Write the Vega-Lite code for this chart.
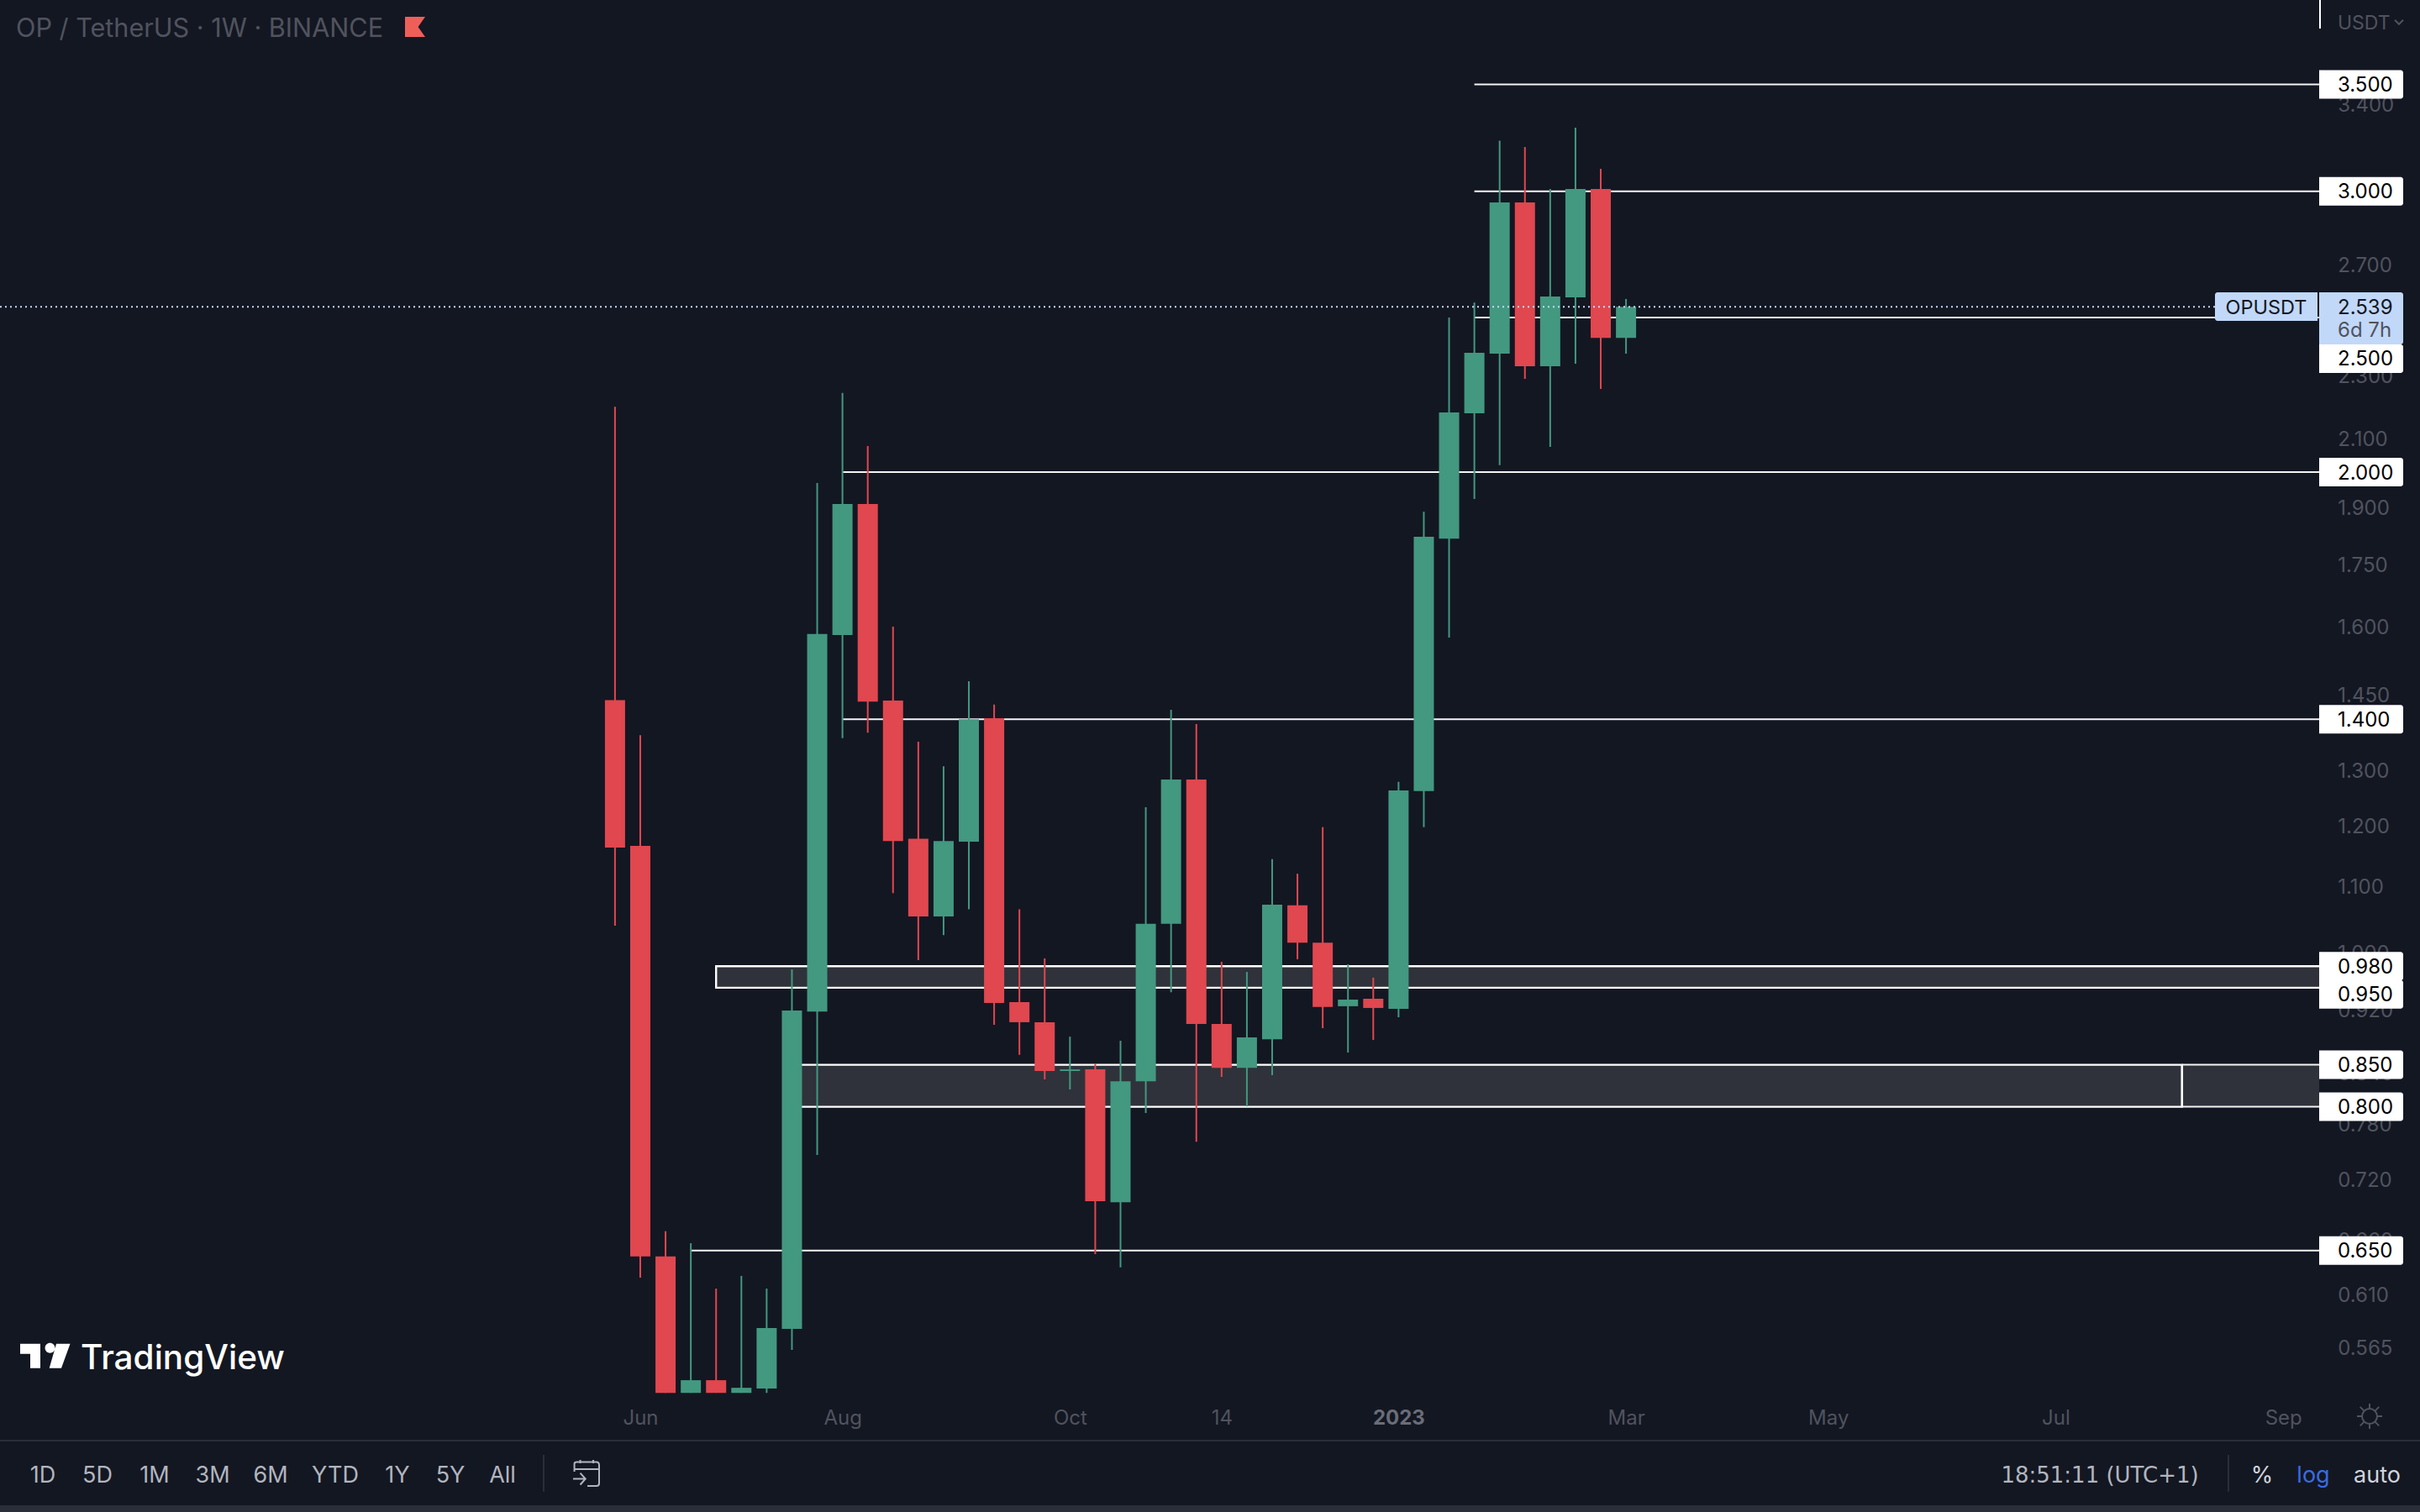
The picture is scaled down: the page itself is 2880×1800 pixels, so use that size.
{
  "$schema": "https://vega.github.io/schema/vega-lite/v6.json",
  "width": 2880,
  "height": 1800,
  "padding": 0,
  "autosize": {"type": "none"},
  "background": "#131722",
  "data": {"values": [{}]},
  "config": {
    "view": {"stroke": null},
    "scale": {"continuousPadding": 0},
    "text": {"font": "Inter", "baseline": "middle", "align": "center", "fontSize": 27, "dy": 1.5},
    "axis": {"labelFont": "Inter", "domain": false, "ticks": false, "grid": false, "title": null}
  },
  "datasets": {
    "labels": [
      {"at": 3.5, "text": "3.500"},
      {"at": 3.0, "text": "3.000"},
      {"at": 2.356, "text": "2.500"},
      {"at": 2.0, "text": "2.000"},
      {"at": 1.4, "text": "1.400"},
      {"at": 0.98, "text": "0.980"},
      {"at": 0.9411, "text": "0.950"},
      {"at": 0.85, "text": "0.850"},
      {"at": 0.8, "text": "0.800"},
      {"at": 0.65, "text": "0.650"}
    ],
    "candles": [
      {"date": "2022-05-30", "open": 1.439, "high": 2.198, "low": 1.039, "close": 1.163},
      {"date": "2022-06-06", "open": 1.166, "high": 1.368, "low": 0.6252, "close": 0.6445},
      {"date": "2022-06-13", "open": 0.6445, "high": 0.6685, "low": 0.5293, "close": 0.5293},
      {"date": "2022-06-20", "open": 0.5293, "high": 0.657, "low": 0.5293, "close": 0.5391},
      {"date": "2022-06-27", "open": 0.5391, "high": 0.6153, "low": 0.5293, "close": 0.5293},
      {"date": "2022-07-04", "open": 0.5293, "high": 0.6267, "low": 0.5293, "close": 0.5332},
      {"date": "2022-07-11", "open": 0.5327, "high": 0.6153, "low": 0.5293, "close": 0.5813},
      {"date": "2022-07-18", "open": 0.5806, "high": 0.9757, "low": 0.5632, "close": 0.9194},
      {"date": "2022-07-25", "open": 0.918, "high": 1.969, "low": 0.7462, "close": 1.583},
      {"date": "2022-08-01", "open": 1.581, "high": 2.242, "low": 1.362, "close": 1.91},
      {"date": "2022-08-08", "open": 1.91, "high": 2.077, "low": 1.373, "close": 1.436},
      {"date": "2022-08-15", "open": 1.438, "high": 1.6, "low": 1.089, "close": 1.174},
      {"date": "2022-08-22", "open": 1.178, "high": 1.355, "low": 0.9887, "close": 1.053},
      {"date": "2022-08-29", "open": 1.053, "high": 1.308, "low": 1.025, "close": 1.174},
      {"date": "2022-09-05", "open": 1.173, "high": 1.479, "low": 1.064, "close": 1.4},
      {"date": "2022-09-12", "open": 1.402, "high": 1.43, "low": 0.9006, "close": 0.9293},
      {"date": "2022-09-19", "open": 0.9305, "high": 1.064, "low": 0.8623, "close": 0.9039},
      {"date": "2022-09-26", "open": 0.9039, "high": 0.9912, "low": 0.8323, "close": 0.8424},
      {"date": "2022-10-03", "open": 0.8424, "high": 0.8853, "low": 0.8203, "close": 0.8444},
      {"date": "2022-10-10", "open": 0.8444, "high": 0.8517, "low": 0.6467, "close": 0.698},
      {"date": "2022-10-17", "open": 0.6971, "high": 0.8799, "low": 0.6344, "close": 0.83},
      {"date": "2022-10-24", "open": 0.83, "high": 1.233, "low": 0.7929, "close": 1.042},
      {"date": "2022-10-31", "open": 1.042, "high": 1.419, "low": 0.944, "close": 1.283},
      {"date": "2022-11-07", "open": 1.283, "high": 1.39, "low": 0.7607, "close": 0.9016},
      {"date": "2022-11-14", "open": 0.9016, "high": 0.9862, "low": 0.8353, "close": 0.8463},
      {"date": "2022-11-21", "open": 0.8463, "high": 0.9719, "low": 0.8005, "close": 0.8844},
      {"date": "2022-11-28", "open": 0.882, "high": 1.144, "low": 0.8373, "close": 1.071},
      {"date": "2022-12-05", "open": 1.07, "high": 1.12, "low": 0.9899, "close": 1.014},
      {"date": "2022-12-12", "open": 1.014, "high": 1.198, "low": 0.8962, "close": 0.9239},
      {"date": "2022-12-19", "open": 0.925, "high": 0.9827, "low": 0.8652, "close": 0.9339},
      {"date": "2022-12-26", "open": 0.935, "high": 0.964, "low": 0.881, "close": 0.9227},
      {"date": "2023-01-02", "open": 0.9216, "high": 1.279, "low": 0.9105, "close": 1.263},
      {"date": "2023-01-09", "open": 1.262, "high": 1.889, "low": 1.198, "close": 1.822},
      {"date": "2023-01-16", "open": 1.817, "high": 2.5, "low": 1.575, "close": 2.18},
      {"date": "2023-01-23", "open": 2.177, "high": 2.555, "low": 1.924, "close": 2.376},
      {"date": "2023-01-30", "open": 2.373, "high": 3.227, "low": 2.02, "close": 2.952},
      {"date": "2023-02-06", "open": 2.952, "high": 3.198, "low": 2.288, "close": 2.33},
      {"date": "2023-02-13", "open": 2.33, "high": 3.01, "low": 2.074, "close": 2.577},
      {"date": "2023-02-20", "open": 2.574, "high": 3.288, "low": 2.339, "close": 3.01},
      {"date": "2023-02-27", "open": 3.01, "high": 3.099, "low": 2.255, "close": 2.428},
      {"date": "2023-03-06", "open": 2.428, "high": 2.568, "low": 2.373, "close": 2.539}
    ]
  },
  "layer": [
    {
      "data": {
        "values": [
          {"from": "2022-06-27", "to": "2023-09-16", "low": 0.95, "high": 0.98},
          {"from": "2022-07-18", "to": "2023-08-07", "low": 0.8, "high": 0.85}
        ],
        "format": {"parse": {"from": "date", "to": "date"}}
      },
      "mark": {"type": "rect", "fill": "#2f323a", "stroke": "#ffffff", "strokeWidth": 2.4},
      "encoding": {
        "x": {
          "field": "from",
          "type": "temporal",
          "scale": {"type": "utc", "domain": [1639152938000, 1697059321000], "nice": false, "padding": 0},
          "axis": {
            "title": null,
            "orient": "bottom",
            "offset": -112,
            "labelPadding": 0,
            "labelBaseline": "middle",
            "labelFontSize": 24,
            "labelColor": {"condition": {"test": "+datum.value==1672617600000", "value": "#6a6d78"}, "value": "#50535e"},
            "labelFontWeight": {"condition": {"test": "+datum.value==1672617600000", "value": "bold"}, "value": "normal"},
            "labelOverlap": false,
            "labelBound": false,
            "labelFlush": false,
            "values": [1654473600000, 1659312000000, 1664755200000, 1668384000000, 1672617600000, 1678060800000, 1682899200000, 1688342400000, 1693785600000],
            "labelExpr": "+datum.value==1668384000000?'14':+datum.value==1672617600000?'2023':utcFormat(datum.value,'%b')"
          }
        },
        "x2": {"field": "to"},
        "y": {
          "field": "low",
          "type": "quantitative",
          "scale": {"type": "log", "domain": [0.44568, 3.9541], "nice": false, "zero": false, "padding": 0},
          "axis": {
            "title": null,
            "orient": "right",
            "offset": -98.3,
            "labelPadding": 0,
            "labelOffset": 1.5,
            "labelAlign": "left",
            "labelBaseline": "middle",
            "labelFontSize": 24,
            "labelColor": "#50535e",
            "labelOverlap": false,
            "labelBound": false,
            "labelFlush": false,
            "format": ".3f",
            "values": [3.4, 2.7, 2.3, 2.1, 1.9, 1.75, 1.6, 1.45, 1.3, 1.2, 1.1, 1.0, 0.92, 0.84, 0.78, 0.72, 0.66, 0.61, 0.565]
          }
        },
        "y2": {"field": "high"}
      }
    },
    {
      "data": {
        "values": [{"from": "2023-08-07", "low": 0.8, "high": 0.85}],
        "format": {"parse": {"from": "date"}}
      },
      "mark": {"type": "rect", "fill": "#2f323a"},
      "encoding": {
        "x": {"field": "from", "type": "temporal"},
        "x2": {"datum": 1694646555000},
        "y": {"field": "low", "type": "quantitative"},
        "y2": {"field": "high"}
      }
    },
    {
      "data": {
        "values": [{"from": "2023-08-07", "low": 0.8, "high": 0.85}]
      },
      "mark": {"type": "rule", "color": "#ffffff", "size": 2.4},
      "encoding": {
        "x": {"field": "from", "type": "temporal"},
        "y": {"field": "low", "type": "quantitative"},
        "y2": {"field": "high"}
      }
    },
    {
      "data": {
        "values": [
          {"level": 3.5, "from": "2023-01-23"},
          {"level": 3.0, "from": "2023-01-23"},
          {"level": 2.5, "from": "2023-01-23"},
          {"level": 2.0, "from": "2022-08-01"},
          {"level": 1.4, "from": "2022-08-01"},
          {"level": 0.85, "from": "2023-08-07"},
          {"level": 0.8, "from": "2023-08-07"},
          {"level": 0.65, "from": "2022-06-20"}
        ]
      },
      "mark": {"type": "rule", "color": "#f4f4f4", "size": 2},
      "encoding": {
        "x": {"field": "from", "type": "temporal"},
        "x2": {"datum": 1694646555000},
        "y": {"field": "level", "type": "quantitative"}
      }
    },
    {
      "data": {"name": "candles"},
      "mark": {"type": "rule", "size": 2},
      "encoding": {
        "x": {"field": "date", "type": "temporal"},
        "y": {"field": "low", "type": "quantitative"},
        "y2": {"field": "high"},
        "color": {"condition": {"test": "datum.close>datum.open", "value": "#439880"}, "value": "#e0474f"}
      }
    },
    {
      "data": {"name": "candles"},
      "mark": {"type": "bar", "size": 24},
      "encoding": {
        "x": {"field": "date", "type": "temporal"},
        "y": {"field": "open", "type": "quantitative"},
        "y2": {"field": "close"},
        "color": {"condition": {"test": "datum.close>datum.open", "value": "#439880"}, "value": "#e0474f"}
      }
    },
    {
      "mark": {"type": "rule", "color": "#c1d8f8", "size": 2, "strokeDash": [2, 4]},
      "encoding": {
        "x": {"datum": 1639152938000, "type": "temporal"},
        "x2": {"datum": 1692153364000},
        "y": {"datum": 2.539, "type": "quantitative"}
      }
    },
    {
      "mark": {"type": "rect", "color": "#c1d8f8", "cornerRadiusTopLeft": 3, "cornerRadiusBottomLeft": 3},
      "encoding": {
        "x": {"datum": 1692153364000, "type": "temporal"},
        "x2": {"datum": 1694606342000},
        "y": {"datum": 2.593, "type": "quantitative"},
        "y2": {"datum": 2.488}
      }
    },
    {
      "mark": {"type": "rect", "color": "#c1d8f8", "cornerRadiusTopRight": 3, "cornerRadiusBottomRight": 3},
      "encoding": {
        "x": {"datum": 1694646555000, "type": "temporal"},
        "x2": {"datum": 1696657193000},
        "y": {"datum": 2.593, "type": "quantitative"},
        "y2": {"datum": 2.405}
      }
    },
    {
      "mark": {"type": "text", "text": "OPUSDT", "color": "#131722", "fontSize": 23.5},
      "encoding": {
        "x": {"datum": 1693379853000, "type": "temporal"},
        "y": {"datum": 2.539, "type": "quantitative"}
      }
    },
    {
      "mark": {"type": "text", "text": "2.539", "color": "#131722", "fontSize": 24, "align": "left"},
      "encoding": {
        "x": {"datum": 1695088896000, "type": "temporal"},
        "y": {"datum": 2.539, "type": "quantitative"}
      }
    },
    {
      "mark": {"type": "text", "text": "6d 7h", "color": "#50535e", "fontSize": 24, "align": "left"},
      "encoding": {
        "x": {"datum": 1695088896000, "type": "temporal"},
        "y": {"datum": 2.456, "type": "quantitative"}
      }
    },
    {
      "data": {"name": "labels"},
      "mark": {"type": "bar", "orient": "horizontal", "size": 34, "color": "#ffffff", "cornerRadiusTopRight": 3, "cornerRadiusBottomRight": 3},
      "encoding": {
        "x": {"datum": 1694646555000, "type": "temporal"},
        "x2": {"datum": 1696657193000},
        "y": {"field": "at", "type": "quantitative"}
      }
    },
    {
      "data": {"name": "labels"},
      "mark": {"type": "text", "color": "#000000", "fontSize": 24, "align": "left"},
      "encoding": {
        "x": {"datum": 1695088896000, "type": "temporal"},
        "y": {"field": "at", "type": "quantitative"},
        "text": {"field": "text"}
      }
    },
    {
      "mark": {"type": "rule", "color": "#ffffff", "size": 2},
      "encoding": {
        "x": {"datum": 1694666661000, "type": "temporal"},
        "y": {"datum": 3.96, "type": "quantitative"},
        "y2": {"datum": 3.794}
      }
    },
    {
      "mark": {"type": "rule", "color": "#2a2e39", "size": 2},
      "encoding": {
        "x": {"datum": 1639152938000, "type": "temporal"},
        "x2": {"datum": 1697059321000},
        "y": {"datum": 0.494, "type": "quantitative"}
      }
    },
    {
      "mark": {"type": "rect", "color": "#2a2e39"},
      "encoding": {
        "x": {"datum": 1639152938000, "type": "temporal"},
        "x2": {"datum": 1697059321000},
        "y": {"datum": 0.45, "type": "quantitative"},
        "y2": {"datum": 0.44568}
      }
    },
    {
      "mark": {"type": "rule", "color": "#2a2e39", "size": 2},
      "encoding": {
        "x": {"datum": 1652161768000, "type": "temporal"},
        "y": {"datum": 0.484, "type": "quantitative"},
        "y2": {"datum": 0.459}
      }
    },
    {
      "mark": {"type": "rule", "color": "#2a2e39", "size": 2},
      "encoding": {
        "x": {"datum": 1692475066000, "type": "temporal"},
        "y": {"datum": 0.484, "type": "quantitative"},
        "y2": {"datum": 0.459}
      }
    },
    {
      "mark": {"type": "text", "text": "OP / TetherUS · 1W · BINANCE", "color": "#50535e", "fontSize": 30.6, "align": "left"},
      "encoding": {
        "x": {"datum": 1639534959000, "type": "temporal"},
        "y": {"datum": 3.797, "type": "quantitative"}
      }
    },
    {
      "mark": {"type": "point", "shape": "M-1,-1H1L0.3,0L1,1H-1Z", "size": 576, "filled": true, "color": "#ef5f5a", "opacity": 1},
      "encoding": {
        "x": {"datum": 1649085491000, "type": "temporal"},
        "y": {"datum": 3.804, "type": "quantitative"}
      }
    },
    {
      "mark": {"type": "text", "text": "USDT", "color": "#50535e", "fontSize": 23, "align": "left"},
      "encoding": {
        "x": {"datum": 1695088896000, "type": "temporal"},
        "y": {"datum": 3.827, "type": "quantitative"}
      }
    },
    {
      "mark": {"type": "point", "shape": "M-1,-0.5L0,0.5L1,-0.5", "size": 100, "filled": false, "stroke": "#50535e", "strokeWidth": 2, "opacity": 1},
      "encoding": {
        "x": {"datum": 1696556661000, "type": "temporal"},
        "y": {"datum": 3.83, "type": "quantitative"}
      }
    },
    {
      "mark": {
        "type": "point",
        "shape": "M-1,-0.49H-0.186V0.49H-0.593V-0.085H-1ZM0.458,-0.49H1.017L0.661,0.49H0.176ZM0.003,-0.322a0.2,0.2 0 1,0 0.4,0a0.2,0.2 0 1,0 -0.4,0Z",
        "size": 3481,
        "filled": true,
        "color": "#ffffff",
        "opacity": 1
      },
      "encoding": {
        "x": {"datum": 1640228629000, "type": "temporal"},
        "y": {"datum": 0.5583, "type": "quantitative"}
      }
    },
    {
      "mark": {"type": "text", "text": "TradingView", "color": "#ffffff", "fontSize": 40.5, "fontWeight": 500, "align": "left"},
      "encoding": {
        "x": {"datum": 1641083000000, "type": "temporal"},
        "y": {"datum": 0.557, "type": "quantitative"}
      }
    },
    {
      "mark": {"type": "text", "text": "1D", "color": "#b2b5be"},
      "encoding": {"x": {"datum": 1640178364000, "type": "temporal"}, "y": {"datum": 0.4706, "type": "quantitative"}}
    },
    {
      "mark": {"type": "text", "text": "5D", "color": "#b2b5be"},
      "encoding": {"x": {"datum": 1641485278000, "type": "temporal"}, "y": {"datum": 0.4706, "type": "quantitative"}}
    },
    {
      "mark": {"type": "text", "text": "1M", "color": "#b2b5be"},
      "encoding": {"x": {"datum": 1642852512000, "type": "temporal"}, "y": {"datum": 0.4706, "type": "quantitative"}}
    },
    {
      "mark": {"type": "text", "text": "3M", "color": "#b2b5be"},
      "encoding": {"x": {"datum": 1644239853000, "type": "temporal"}, "y": {"datum": 0.4706, "type": "quantitative"}}
    },
    {
      "mark": {"type": "text", "text": "6M", "color": "#b2b5be"},
      "encoding": {"x": {"datum": 1645627193000, "type": "temporal"}, "y": {"datum": 0.4706, "type": "quantitative"}}
    },
    {
      "mark": {"type": "text", "text": "YTD", "color": "#b2b5be"},
      "encoding": {"x": {"datum": 1647175385000, "type": "temporal"}, "y": {"datum": 0.4706, "type": "quantitative"}}
    },
    {
      "mark": {"type": "text", "text": "1Y", "color": "#b2b5be"},
      "encoding": {"x": {"datum": 1648663257000, "type": "temporal"}, "y": {"datum": 0.4706, "type": "quantitative"}}
    },
    {
      "mark": {"type": "text", "text": "5Y", "color": "#b2b5be"},
      "encoding": {"x": {"datum": 1649929959000, "type": "temporal"}, "y": {"datum": 0.4706, "type": "quantitative"}}
    },
    {
      "mark": {"type": "text", "text": "All", "color": "#b2b5be"},
      "encoding": {"x": {"datum": 1651176555000, "type": "temporal"}, "y": {"datum": 0.4706, "type": "quantitative"}}
    },
    {
      "mark": {
        "type": "point",
        "shape": "M-0.9,-0.1V-0.7Q-0.9,-0.85 -0.7,-0.85H0.8Q1,-0.85 1,-0.6V0.8Q1,1 0.8,1H0.1M-0.9,-0.3H1M-0.45,-1V-0.75M0.55,-1V-0.75M-1,0.45H-0.1M-0.45,0L-0.05,0.45L-0.45,0.9",
        "size": 961,
        "filled": false,
        "stroke": "#b2b5be",
        "strokeWidth": 2,
        "opacity": 1
      },
      "encoding": {"x": {"datum": 1653177140000, "type": "temporal"}, "y": {"datum": 0.4715, "type": "quantitative"}}
    },
    {
      "mark": {"type": "text", "text": "18:51:11 (UTC+1)", "color": "#b2b5be", "font": "DejaVu Sans", "fontSize": 26},
      "encoding": {"x": {"datum": 1689398789000, "type": "temporal"}, "y": {"datum": 0.4706, "type": "quantitative"}}
    },
    {
      "mark": {"type": "text", "text": "%", "color": "#d1d4dc"},
      "encoding": {"x": {"datum": 1693279321000, "type": "temporal"}, "y": {"datum": 0.4706, "type": "quantitative"}}
    },
    {
      "mark": {"type": "text", "text": "log", "color": "#3a6be0"},
      "encoding": {"x": {"datum": 1694505810000, "type": "temporal"}, "y": {"datum": 0.4706, "type": "quantitative"}}
    },
    {
      "mark": {"type": "text", "text": "auto", "color": "#d1d4dc"},
      "encoding": {"x": {"datum": 1696033896000, "type": "temporal"}, "y": {"datum": 0.4706, "type": "quantitative"}}
    },
    {
      "mark": {
        "type": "point",
        "shape": "M0.6,0A0.6,0.6 0 1,1 -0.6,0A0.6,0.6 0 1,1 0.6,0ZM0,-0.6V-1M0,0.6V1M-0.6,0H-1M0.6,0H1M-0.45,-0.45L-0.75,-0.75M0.45,-0.45L0.75,-0.75M-0.45,0.45L-0.75,0.75M0.45,0.45L0.75,0.75",
        "size": 900,
        "filled": false,
        "stroke": "#50535e",
        "strokeWidth": 2,
        "opacity": 1
      },
      "encoding": {"x": {"datum": 1695852938000, "type": "temporal"}, "y": {"datum": 0.5117, "type": "quantitative"}}
    }
  ]
}
